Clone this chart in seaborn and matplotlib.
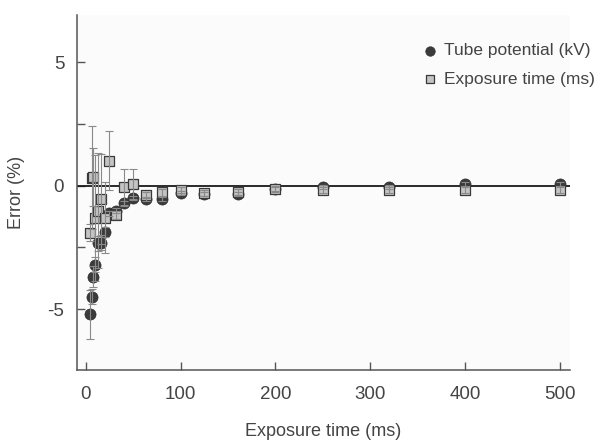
import matplotlib
matplotlib.use("Agg")
import matplotlib.pyplot as plt
import seaborn as sns
import pandas as pd

# Exposure times (ms)
exposure_ms = [5, 6.3, 8, 10, 12.5, 16, 20, 25, 32, 40, 50, 63, 80, 100, 125, 160, 200, 250, 320, 400, 500]
# Error (%) for tube potential (kV)
kv_error = [-5.21, -4.49, -3.68, -3.20, -2.33, -2.31, -1.86, -1.12, -1.02, -0.69, -0.49, -0.55, -0.54,
            -0.30, -0.32, -0.33, -0.12, -0.05, -0.05, 0.05, 0.05]
kv_sd = [0.98, 0.30, 0.43, 0.30, 0.30, 0.30, 0.20, 0.10, 0.10, 0.08, 0.08, 0.08, 0.08,
         0.08, 0.08, 0.08, 0.08, 0.08, 0.08, 0.08, 0.08]
# Error (%) for exposure time (ms)
ms_error = [-1.91, 0.33, 0.36, -1.29, -1.01, -0.55, -1.29, 1.01, -1.19, -0.07, 0.07, -0.38, -0.27,
            -0.16, -0.28, -0.25, -0.14, -0.18, -0.16, -0.16, -0.16]
ms_sd = [0.35, 2.07, 1.18, 2.55, 2.32, 1.83, 1.42, 1.20, 0.15, 0.75, 0.60, 0.12, 0.15,
         0.12, 0.12, 0.12, 0.12, 0.12, 0.12, 0.12, 0.12]

labels = ["Tube potential (kV)", "Exposure time (ms)"]

sns.set_style("ticks")
plt.rcParams['font.family'] = ['Liberation Sans', 'DejaVu Sans']
txt = '#444444'

fig = plt.figure(figsize=(6.05, 4.41), dpi=100)
ax = fig.add_axes([0.1268, 0.1617, 0.8152, 0.8043])
ax.set_facecolor('#fbfbfb')

df_kv = pd.DataFrame({"t": exposure_ms, "err": kv_error})
df_ms = pd.DataFrame({"t": exposure_ms, "err": ms_error})

ax.axhline(0, color='#1a1a1a', lw=1.3, zorder=1)

sns.scatterplot(data=df_kv, x="t", y="err", ax=ax, marker='o', s=64, color='#3b3b3b',
                edgecolor='#2e2e2e', linewidth=0.5, label=labels[0], zorder=2)
ax.errorbar(exposure_ms, kv_error, yerr=kv_sd, fmt='none', ecolor='#8a8a8a', elinewidth=0.8,
            capsize=2.6, capthick=0.8, zorder=4)
sns.scatterplot(data=df_ms, x="t", y="err", ax=ax, marker='s', s=54, color='#c4c4c4',
                edgecolor='#3a3a3a', linewidth=0.9, label=labels[1], zorder=3)
ax.errorbar(exposure_ms, ms_error, yerr=ms_sd, fmt='none', ecolor='#8a8a8a', elinewidth=0.8,
            capsize=2.6, capthick=0.8, zorder=4)

ax.set_xlim(-9.5, 510.3)
ax.set_ylim(-7.45, 6.91)
ax.set_xticks([0, 100, 200, 300, 400, 500])
ax.set_yticks([-5, -2.5, 0, 2.5, 5])
ax.set_yticklabels(['-5', '', '0', '', '5'])
ax.tick_params(axis='both', direction='in', length=6, width=1, color='#555555',
               labelsize=13.5, labelcolor=txt, pad=9)
ax.tick_params(axis='x', pad=12)

for s in ['top', 'right']:
    ax.spines[s].set_visible(False)
for s in ['left', 'bottom']:
    ax.spines[s].set_color('#555555')
    ax.spines[s].set_linewidth(1.1)

ax.set_xlabel("Exposure time (ms)", fontsize=13, color=txt, labelpad=14)
ax.set_ylabel("Error (%)", fontsize=13, color=txt, labelpad=16)

leg = ax.legend(loc='upper left', bbox_to_anchor=(421 / 605, 1 - 43 / 441), bbox_transform=fig.transFigure,
                frameon=False, fontsize=12.5, handlelength=1.0, handletextpad=0.3, labelspacing=0.78,
                borderaxespad=0, borderpad=0, markerscale=0.85)
for t in leg.get_texts():
    t.set_color(txt)

fig.savefig("out.png", dpi=100, facecolor='white')
